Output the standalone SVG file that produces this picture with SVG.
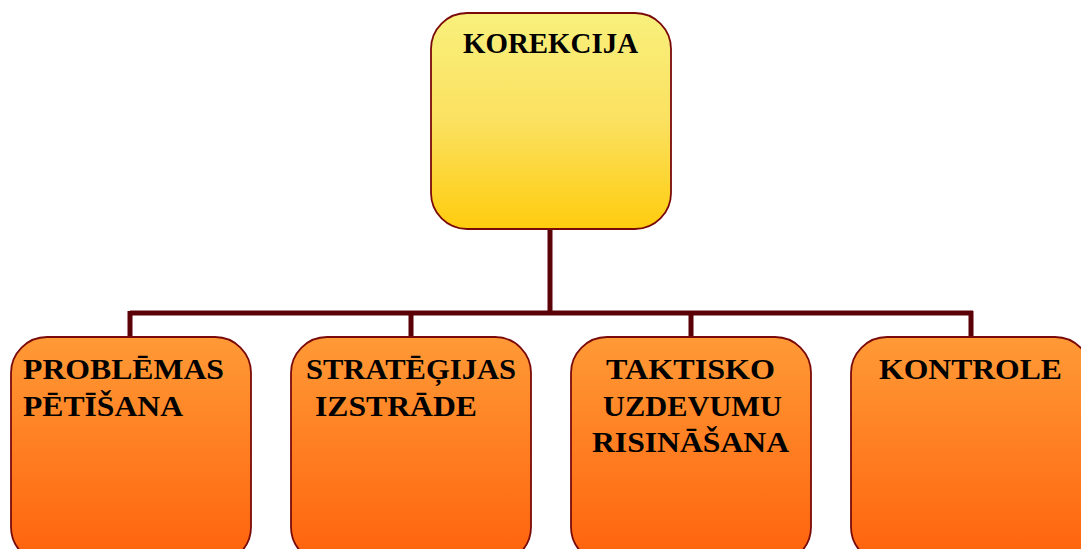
<svg xmlns="http://www.w3.org/2000/svg" width="1081" height="549" viewBox="0 0 1081 549">
<defs>
<linearGradient id="gy" x1="0" y1="0" x2="0" y2="1">
<stop offset="0" stop-color="#f8f07c"/>
<stop offset="0.5" stop-color="#fbe160"/>
<stop offset="1" stop-color="#ffcc0e"/>
</linearGradient>
<linearGradient id="go" x1="0" y1="0" x2="0" y2="1">
<stop offset="0" stop-color="#ff9a36"/>
<stop offset="1" stop-color="#ff620c"/>
</linearGradient>
<style>
.box{stroke:#7a0a0a;stroke-width:1.8}
.t{font-family:"Liberation Serif","Times New Roman",serif;font-weight:bold;font-size:30px;fill:#000}
.c{fill:none;stroke:#5a0006;stroke-width:5}
</style>
</defs>
<rect width="1081" height="549" fill="#fff"/>
<g id="connectors">
<path class="c" d="M550 229 V313 M130 313 H973 M130 311 V337 M411 311 V337 M691 311 V337 M971 311 V337"/>
</g>
<g id="korekcija">
<rect class="box" x="431" y="13" width="240" height="216" rx="36" fill="url(#gy)"/>
<text class="t" x="463" y="53" textLength="175" lengthAdjust="spacingAndGlyphs">KOREKCIJA</text>
</g>
<g id="problemas">
<rect class="box" x="11" y="337" width="240" height="226" rx="36" fill="url(#go)"/>
<text class="t" x="23" y="379" textLength="201" lengthAdjust="spacingAndGlyphs">PROBLĒMAS</text>
<text class="t" x="23" y="416" textLength="160" lengthAdjust="spacingAndGlyphs">PĒTĪŠANA</text>
</g>
<g id="strategijas">
<rect class="box" x="291" y="337" width="240" height="226" rx="36" fill="url(#go)"/>
<text class="t" x="306" y="379" textLength="210" lengthAdjust="spacingAndGlyphs">STRATĒĢIJAS</text>
<text class="t" x="315" y="416" textLength="162" lengthAdjust="spacingAndGlyphs">IZSTRĀDE</text>
</g>
<g id="taktisko">
<rect class="box" x="571" y="337" width="240" height="226" rx="36" fill="url(#go)"/>
<text class="t" x="606" y="379" textLength="169" lengthAdjust="spacingAndGlyphs">TAKTISKO</text>
<text class="t" x="603" y="416" textLength="179" lengthAdjust="spacingAndGlyphs">UZDEVUMU</text>
<text class="t" x="592" y="452" textLength="197" lengthAdjust="spacingAndGlyphs">RISINĀŠANA</text>
</g>
<g id="kontrole">
<rect class="box" x="851" y="337" width="240" height="226" rx="36" fill="url(#go)"/>
<text class="t" x="879" y="379" textLength="183" lengthAdjust="spacingAndGlyphs">KONTROLE</text>
</g>
</svg>
